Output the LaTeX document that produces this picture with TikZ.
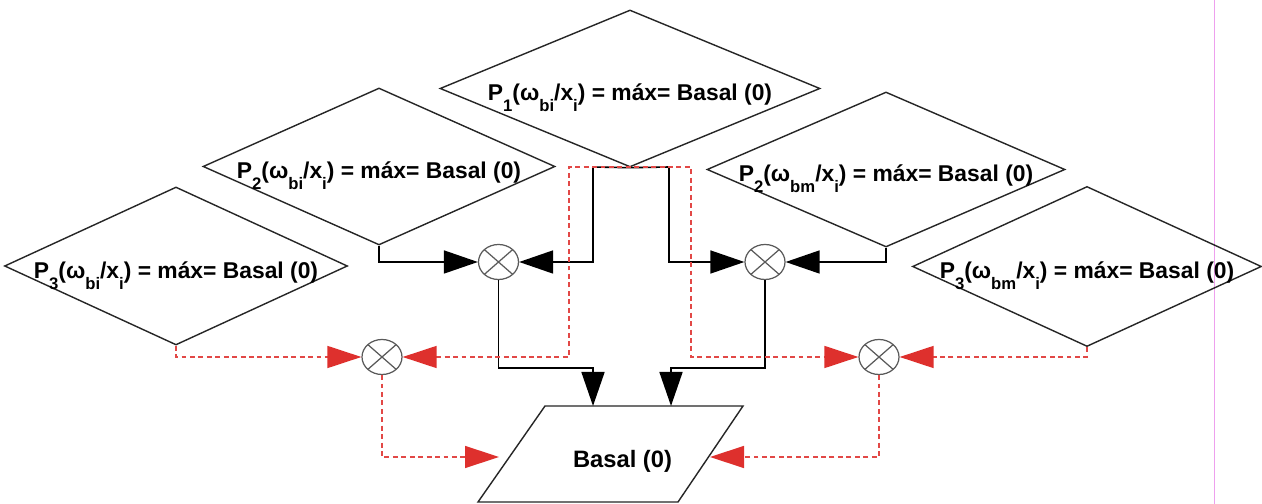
\documentclass[tikz,border=0pt]{standalone}
\usepackage{fontspec}
\setmainfont{Liberation Sans}
\usetikzlibrary{shapes.geometric, arrows.meta, calc}
\definecolor{rojoflecha}{RGB}{222, 48, 45}
\definecolor{rojolinea}{RGB}{226, 72, 70}
\definecolor{grismult}{RGB}{90, 90, 90}
\definecolor{margen}{RGB}{238, 160, 238}
\newcommand{\ind}[1]{\raisebox{-6pt}{\fontsize{9.5}{9.5}\selectfont #1}}

\begin{document}
\begin{tikzpicture}[
  cond/.style={diamond, draw=black!85, line width=0.8pt, inner sep=0pt,
    text height=0.5cm, text depth=0pt, font=\fontsize{13}{15}\selectfont\bfseries},
  mult/.style={ellipse, draw=grismult, line width=0.7pt, inner sep=0pt,
    minimum width=0.8cm, minimum height=0.7cm,
    path picture={\draw[grismult, line width=0.7pt]
      (path picture bounding box.north west) -- (path picture bounding box.south east)
      (path picture bounding box.south west) -- (path picture bounding box.north east);}},
  negra/.style={line width=0.9pt, -{Triangle[length=0.68cm, width=0.46cm]}},
  roja/.style={rojolinea, line width=0.8pt, dash pattern=on 2.8pt off 2pt},
  rflecha/.style={roja, -{Triangle[length=0.68cm, width=0.44cm, color=rojoflecha, fill=rojoflecha]}},
  rdoble/.style={roja, {Triangle[length=0.68cm, width=0.44cm, color=rojoflecha, fill=rojoflecha]}-{Triangle[length=0.68cm, width=0.44cm, color=rojoflecha, fill=rojoflecha]}}
]
  \path[use as bounding box, fill=white] (0,0) rectangle (25.24,10.08);
  % linea del margen
  \draw[margen, line width=0.5pt] (24.28,0) -- (24.28,10.08);

  % condiciones
  \node[cond, shape aspect=2.42, minimum width=7.6cm, minimum height=3.14cm] (p1) at (12.6,8.31)
    {P\ind{1}(ω\ind{bi}/x\ind{i}) = máx= Basal (0)};
  \node[cond, shape aspect=2.24, minimum width=7.04cm, minimum height=3.14cm] (p2bi) at (7.58,6.75)
    {P\ind{2}(ω\ind{bi}/x\ind{i}) = máx= Basal (0)};
  \node[cond, shape aspect=2.17, minimum width=6.86cm, minimum height=3.16cm] (p3bi) at (3.52,4.76)
    {P\ind{3}(ω\ind{bi}/x\ind{i}) = máx= Basal (0)};
  \node[cond, shape aspect=2.31, minimum width=7.16cm, minimum height=3.1cm] (p2bm) at (17.72,6.69)
    {P\ind{2}(ω\ind{bm}/x\ind{i}) = máx= Basal (0)};
  \node[cond, shape aspect=2.18, minimum width=6.86cm, minimum height=3.14cm] (p3bm) at (21.74,4.75)
    {P\ind{3}(ω\ind{bm}/x\ind{i}) = máx= Basal (0)};

  % multiplicadores
  \node[mult] (m1) at (9.97,4.84) {};
  \node[mult] (m2) at (15.3,4.84) {};
  \node[mult] (r1) at (7.64,2.94) {};
  \node[mult] (r2) at (17.58,2.94) {};

  % salida
  \draw[black!85, line width=0.8pt] (9.56,0.04) -- (10.9,1.96) -- (14.86,1.96) -- (13.56,0.04) -- cycle;
  \node[font=\fontsize{13.5}{15}\selectfont\bfseries] (basal) at (12.45,0.85) {Basal (0)};

  \coordinate (b1) at (11.86,6.74);
  \coordinate (b2) at (13.38,6.74);
  \coordinate (q1) at (11.38,6.74);
  \coordinate (q2) at (13.82,6.74);
  \coordinate (c1) at (11.86,2.72);
  \coordinate (c2) at (13.42,2.72);
  \coordinate (t1) at (11.86,1.96);
  \coordinate (t2) at (13.42,1.96);
  \coordinate (e1) at (9.98,0.94);
  \coordinate (e2) at (14.2,0.94);

  % conexiones negras
  \draw[negra] (p2bi.south) |- (m1);
  \draw[negra] (p1.south) -- (b1) |- (m1);
  \draw[negra] (p1.south) -- (b2) |- (m2);
  \draw[negra] (p2bm.south) |- (m2);
  \draw[negra] (m1) |- (c1) -- (t1);
  \draw[negra] (m2) |- (c2) -- (t2);

  % conexiones rojas
  \draw[rdoble] (r1) -| (q1) -- (q2) |- (r2);
  \draw[rflecha] (p3bi.south) |- (r1);
  \draw[rflecha] (p3bm.south) |- (r2);
  \draw[rflecha] (r1) |- (e1);
  \draw[rflecha] (r2) |- (e2);
\end{tikzpicture}
\end{document}
